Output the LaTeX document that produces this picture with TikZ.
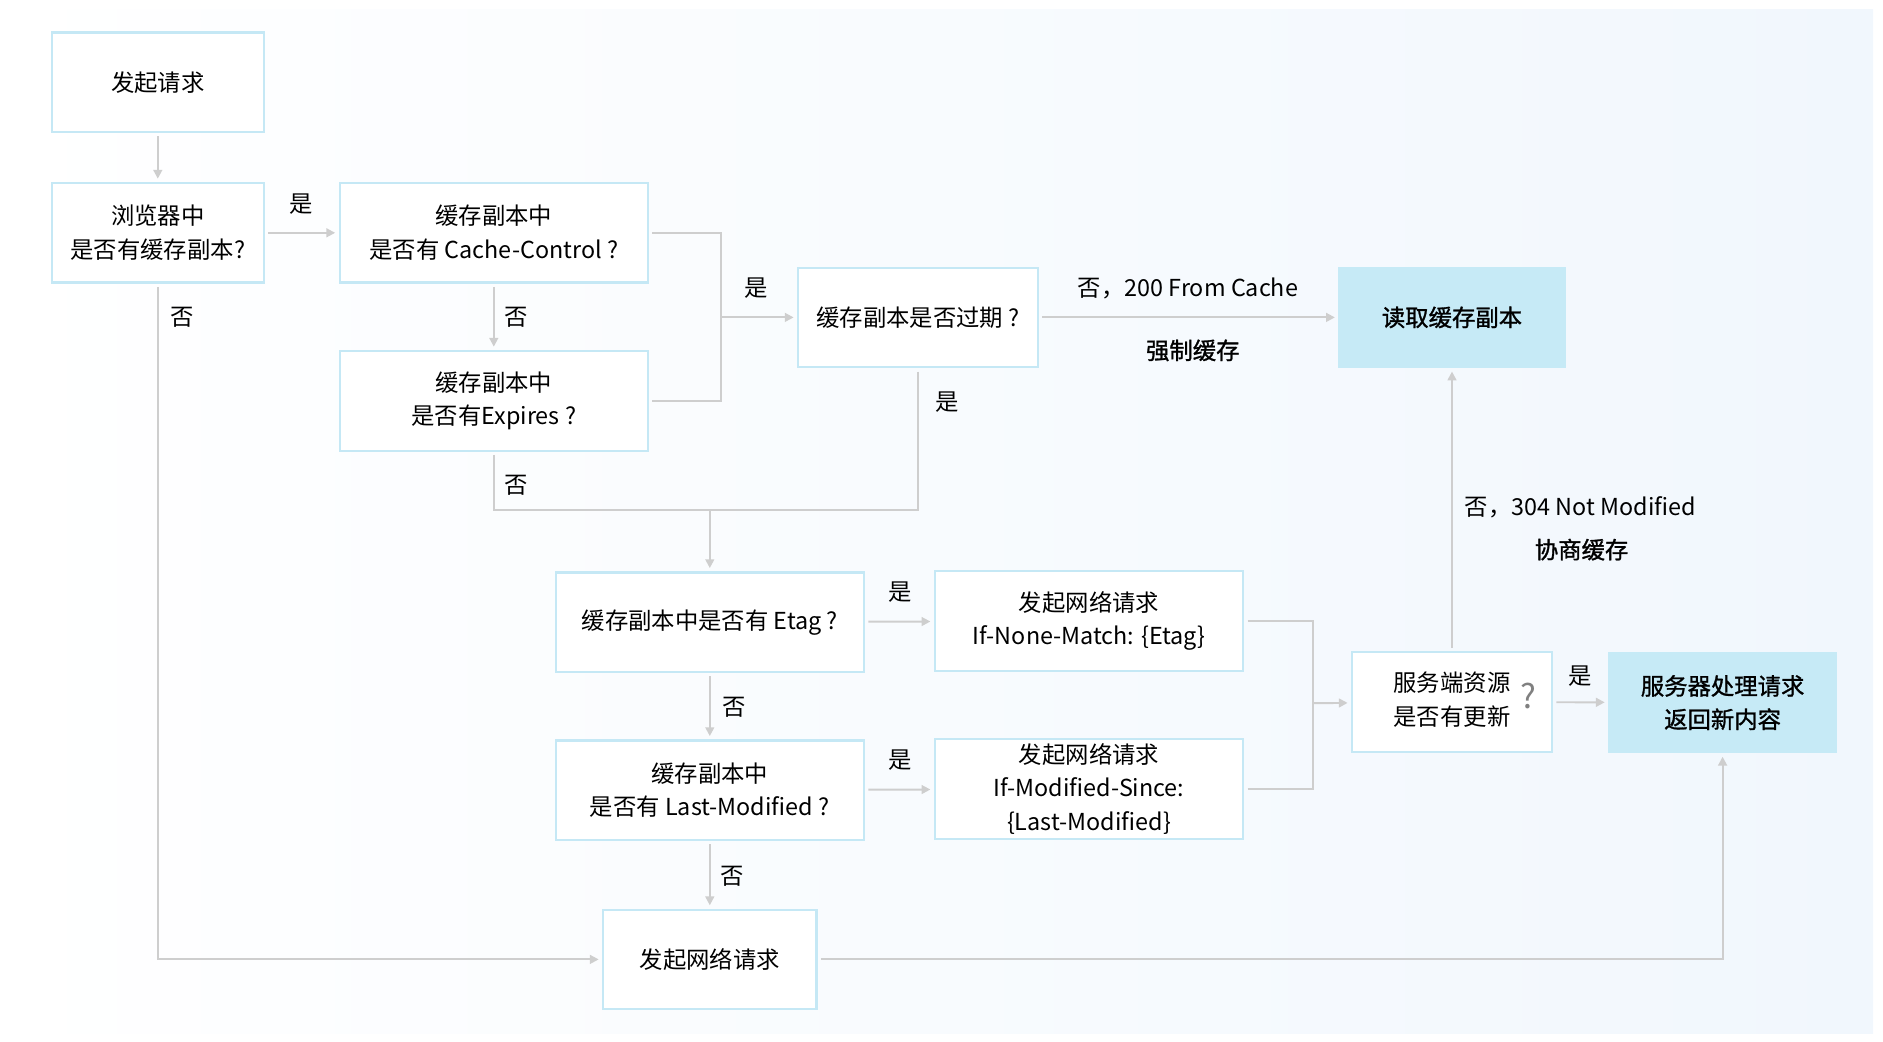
\documentclass[tikz,border=0pt]{standalone}
\usepackage{fontspec}
\setmainfont{Noto Sans CJK SC}[BoldFont={Noto Sans CJK SC},BoldFeatures={FakeBold=1.2}]
\usetikzlibrary{arrows.meta,positioning}
\definecolor{boxline}{RGB}{197,232,245}
\definecolor{boxfill}{RGB}{198,234,246}
\definecolor{wirecol}{RGB}{206,206,206}
\definecolor{bgblue}{RGB}{241,247,253}
\newcommand{\txt}{\fontsize{13.3}{19}\selectfont}

\begin{document}
\begin{tikzpicture}[x=0.024cm,y=-0.024cm,
	box/.style={draw=boxline,line width=1.2pt,fill=white,minimum width=6.17cm,minimum height=1.99cm,align=center,font=\txt,outer sep=2.5pt,inner sep=0pt},
	small/.style={box,minimum width=4.25cm},
	hot/.style={box,fill=boxfill,draw=boxfill,font=\txt\bfseries},
	lbl/.style={font=\txt,inner sep=0pt},
	wire/.style={draw=wirecol,line width=1.1pt},
	go/.style={wire,-{Triangle[length=5pt,width=5pt]}},
]
\useasboundingbox (0,0) rectangle (1569.17,868.33);
\fill[left color=white,right color=bgblue] (0,8) rectangle (1561,861);

% boxes
\node[small] (start) at (131.5,68.5) {发起请求};
\node[small] (browser) at (131.5,194) {浏览器中\\是否有缓存副本?};
\node[box] (cc) at (411.5,194) {缓存副本中\\是否有 Cache-Control ?};
\node[box] (exp) at (411.5,334) {缓存副本中\\是否有Expires ?};
\node[box,minimum width=4.8cm] (expired) at (765,264.5) {缓存副本是否过期 ?};
\node[hot,minimum width=4.51cm] (read) at (1210,264.5) {读取缓存副本};
\node[box] (etag) at (591.5,518.5) {缓存副本中是否有 Etag ?};
\node[box] (inm) at (907.5,517.5) {发起网络请求\\If-None-Match: \{Etag\}};
\node[box] (lm) at (591.5,658.5) {缓存副本中\\是否有 Last-Modified ?};
\node[box] (ims) at (907.5,657.5) {发起网络请求\\If-Modified-Since:\\\{Last-Modified\}};
\node[box,minimum width=4.27cm] (net) at (591.5,799.5) {发起网络请求};
\node[box,minimum width=4.0cm] (srv) at (1210,585) {\begin{tabular}{@{}c@{}}服务端资源\\是否有更新\end{tabular}\rlap{\hspace{0.45em}{\fontsize{19}{19}\selectfont\color{gray}?}}};
\node[hot,minimum width=4.54cm] (new) at (1435.5,585.5) {服务器处理请求\\返回新内容};

% junctions
\coordinate (j1) at (601,264.5);
\coordinate (j2) at (591.5,425);
\coordinate (j3) at (1094,586);

% connectors
\draw[go] (start) -- (browser);
\draw[go] (browser) -- (cc);
\draw[go] (browser.south) |- (net.west);
\draw[go] (cc) -- (exp);
\draw[wire] (cc.east) -| (j1);
\draw[wire] (exp.east) -| (j1);
\draw[go] (j1) -- (expired);
\draw[go] (expired) -- (read);
\draw[wire] (exp.south) |- (j2);
\draw[wire] (expired.south) |- (j2);
\draw[go] (j2) -- (etag);
\draw[go] (etag) -- (inm);
\draw[go] (etag) -- (lm);
\draw[go] (lm) -- (ims);
\draw[go] (lm) -- (net);
\draw[wire] (inm.east) -| (j3);
\draw[wire] (ims.east) -| (j3);
\draw[go] (j3) -- (srv);
\draw[go] (srv) -- (new);
\draw[go] (srv) -- (read);
\draw[go] (net.east) -| (new.south);

% labels
\node[lbl] (y1) at (251,170) {是};
\node[lbl] (n1) at (152,264) {否};
\node[lbl] (n2) at (430,264) {否};
\node[lbl] (y2) at (630,240) {是};
\node[lbl] (y3) at (789,335) {是};
\node[lbl] (n3) at (430,404) {否};
\node[lbl] (fc) at (990,240) {否，200 From Cache};
\node[lbl,font=\txt\bfseries] (qz) at (994,292) {强制缓存};
\node[lbl] (y4) at (750,493) {是};
\node[lbl] (n4) at (612,589) {否};
\node[lbl] (y5) at (750,633) {是};
\node[lbl] (n5) at (610,730) {否};
\node[lbl] (y6) at (1317,563) {是};
\node[lbl] (nm) at (1317,423) {否，304 Not Modified};
\node[lbl,font=\txt\bfseries] (xs) at (1318,458) {协商缓存};
\end{tikzpicture}
\end{document}
